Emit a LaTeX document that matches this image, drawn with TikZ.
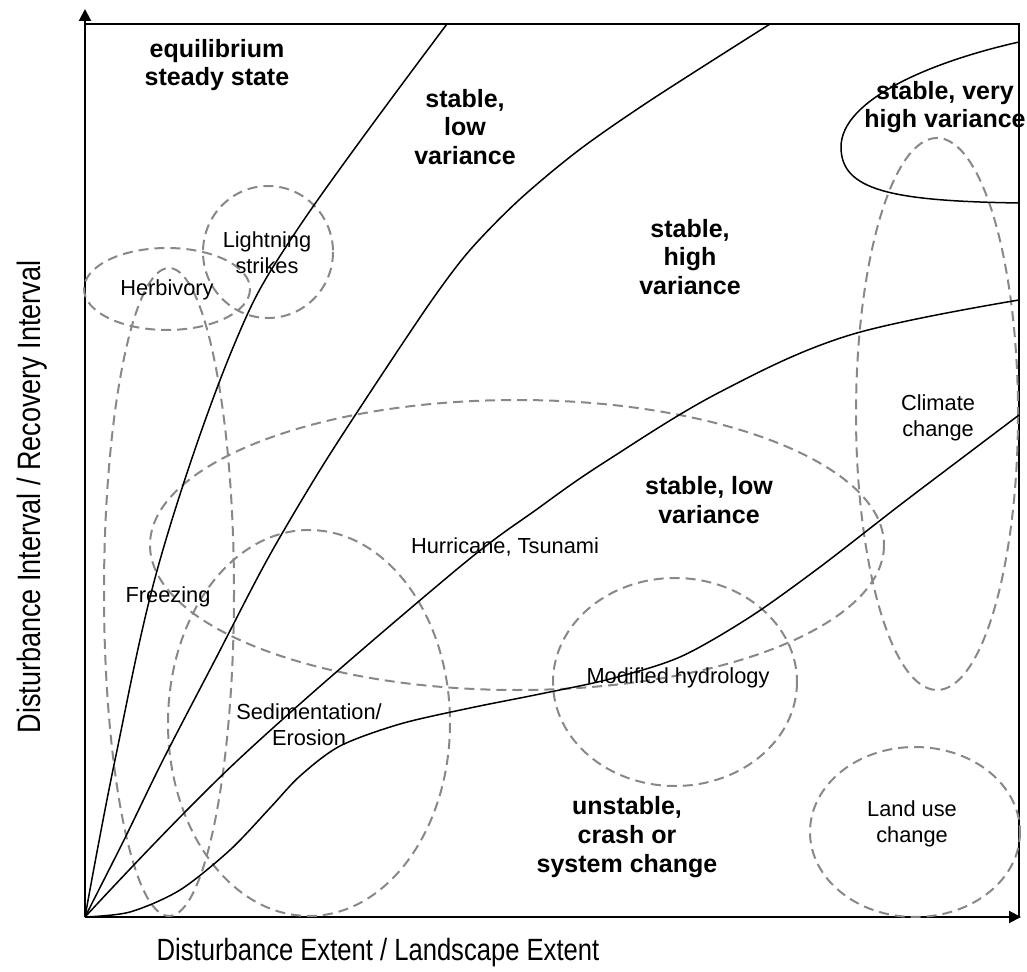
\documentclass[tikz,border=0pt]{standalone}
\usepackage{graphicx}
\usepackage{fontspec}
\setmainfont{Liberation Sans}
\usetikzlibrary{arrows.meta}
\definecolor{zonegray}{RGB}{136,136,136}
\tikzset{
axis/.style={line width=1pt, -{Triangle[length=6pt,width=6pt]}}, % axes with filled heads
frame/.style={line width=0.8pt}, % top and right border
boundary/.style={line width=0.75pt}, % stability boundaries
zone/.style={zonegray, line width=1pt, dash pattern=on 5pt off 3pt}, % dashed disturbance zones
region/.style={font=\fontsize{12.5}{14.3}\selectfont\bfseries, align=center, inner sep=0pt}, % bold region names
event/.style={font=\fontsize{10.9}{13}\selectfont, align=center, inner sep=0pt}, % disturbance names
axislabel/.style={font=\fontsize{12.8}{15}\selectfont, inner sep=0pt}, % axis titles
}

\begin{document}
\begin{tikzpicture}[x=0.5pt, y=-0.5pt]
        \useasboundingbox (0,0) rectangle (1027,972);

        % axes and frame
        \coordinate (O) at (85,917);
        \coordinate (ytip) at (85,9);
        \coordinate (xtip) at (1021,917);
        \coordinate (tl) at (85,24);
        \coordinate (tr) at (1019,24);
        \coordinate (br) at (1019,917);
        \draw[frame] (tl) -- (tr) -- (br);
        \draw[axis] (O) -- (ytip);
        \draw[axis] (O) -- (xtip);

        % dashed zones
        \draw[zone] (167,289) ellipse [x radius=83, y radius=41];
        \draw[zone] (268,252) ellipse [x radius=65, y radius=66];
        \draw[zone] (169,592) ellipse [x radius=65, y radius=324];
        \draw[zone] (309,723) ellipse [x radius=141, y radius=193];
        \draw[zone] (517,545) ellipse [x radius=367, y radius=145];
        \draw[zone] (675,682) ellipse [x radius=122, y radius=104];
        \draw[zone] (937,414) ellipse [x radius=81, y radius=276];
        \draw[zone] (915,832) ellipse [x radius=105, y radius=85];

        % boundaries
        \draw[boundary] plot[smooth, tension=0.6] coordinates {(85,917) (115,760) (160,560) (232,350) (297,230) (447,24)};
        \draw[boundary] plot[smooth, tension=0.5] coordinates {(85,917) (124,840) (163,760) (215,660) (267,560) (320,470) (375,385) (432,300) (470,250) (519,200) (579,150) (651,100) (770,24)};
        \draw[boundary] plot[smooth, tension=0.6] coordinates {(85,917) (238,760) (450,575) (540,507) (608,460) (720,392) (850,335) (1019,300)};
        \draw[boundary] plot[smooth, tension=0.5] coordinates {(85,917) (130,912) (180,890) (230,850) (270,808) (300,776) (340,746) (400,724) (470,708) (540,694) (610,679) (680,657) (750,617) (820,567) (900,505) (970,452) (1019,415)};
        \draw[boundary] (1019,42) .. controls (930,62) and (841,100) .. (841,147) .. controls (841,190) and (890,201) .. (1019,203);

        % regions
        \node[region] (equil) at (217,65) {equilibrium\\steady state};
        \node[region] (lowvar) at (465,127) {stable,\\low\\variance};
        \node[region] (highvar) at (690,257) {stable,\\high\\variance};
        \node[region] (veryhigh) at (945,107) {stable, very\\high variance};
        \node[region] (lowvarb) at (709,500) {stable, low\\variance};
        \node[region] (unstable) at (627,837) {unstable,\\crash or\\system change};

        % disturbances
        \node[event] (herb) at (167,290) {Herbivory};
        \node[event] (light) at (267,253) {Lightning\\strikes};
        \node[event] (freeze) at (168,597) {Freezing};
        \node[event] (sed) at (309,725) {Sedimentation/\\Erosion};
        \node[event] (hurr) at (505,547) {Hurricane, Tsunami};
        \node[event] (hydro) at (678,678) {Modified hydrology};
        \node[event] (climate) at (938,418) {Climate\\change};
        \node[event] (land) at (912,824) {Land use\\change};

        % axis labels
        \node[axislabel] (xlab) at (378,953) {\scalebox{1}[1.2]{Disturbance Extent / Landscape Extent}};
        \node[axislabel, font=\fontsize{13.5}{15}\selectfont, rotate=90] (ylab) at (32,497) {\scalebox{1}[1.2]{Disturbance Interval / Recovery Interval}};
\end{tikzpicture}
\end{document}
